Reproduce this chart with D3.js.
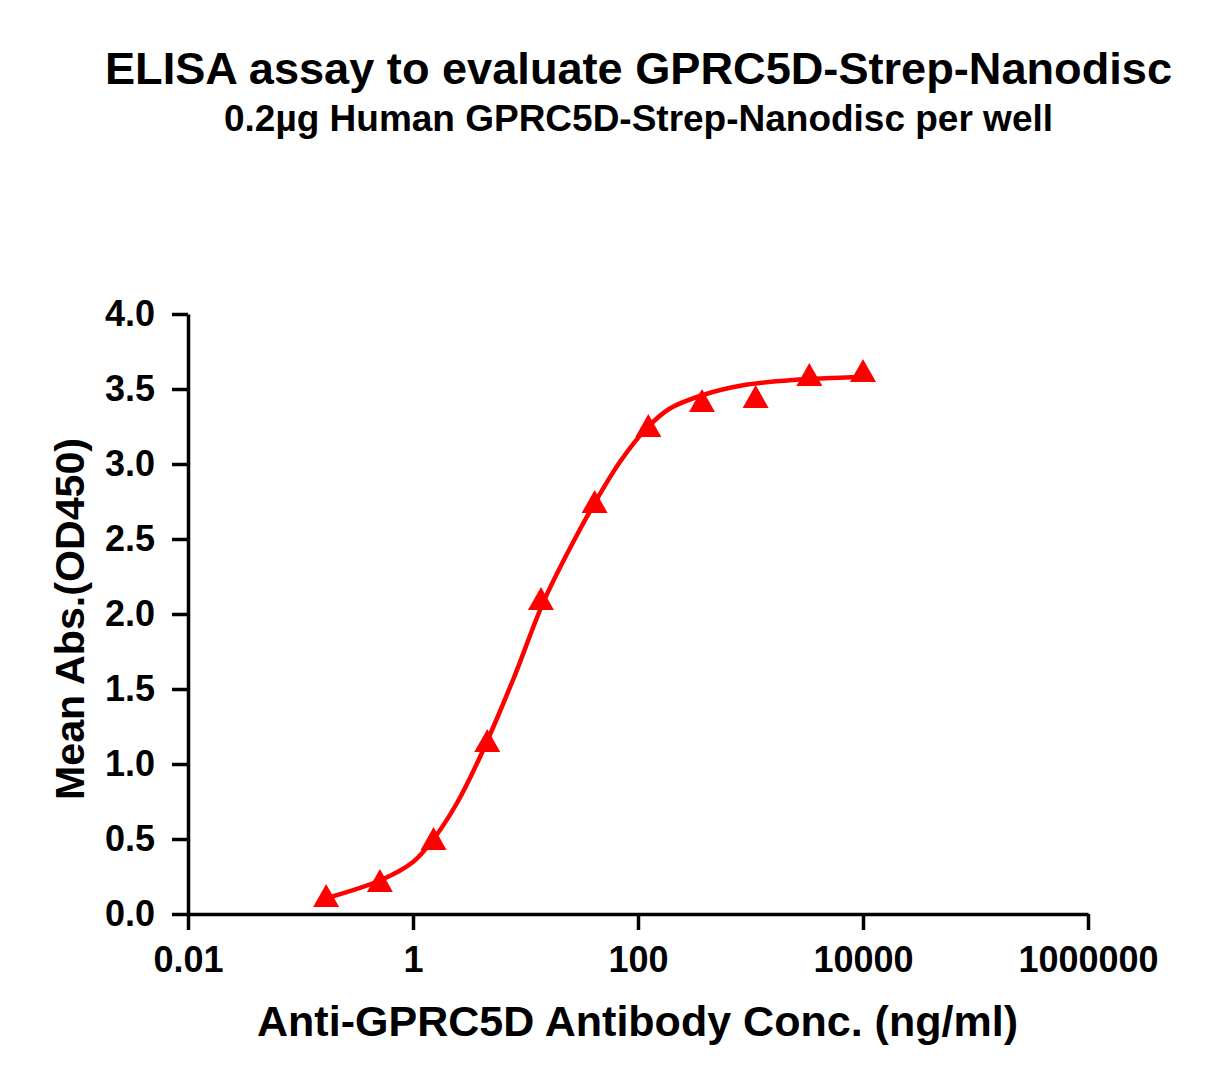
<!DOCTYPE html>
<html>
<head>
<meta charset="utf-8">
<script src="https://cdn.jsdelivr.net/npm/d3@7"></script>
<style>
    body { margin: 0; background: #fff; }
    text { font-family: "Liberation Sans", Arial, sans-serif; font-weight: bold; }
</style>
</head>
<body>
<svg id="chart" width="1216" height="1091"></svg>
<script>
// measured points, 3-fold dilution series (ng/ml)
let conc = [0.169, 0.508, 1.524, 4.572, 13.72, 41.15, 123.5, 370.4, 1111.1, 3333.3, 10000];
let od450 = [0.123, 0.223, 0.503, 1.157, 2.103, 2.75, 3.257, 3.423, 3.45, 3.597, 3.623];

// fitted curve
let fitConc = [0.169, 0.52, 1.0, 1.5, 2.46, 3.94, 7.74, 14.3, 24.9, 39.8, 69.2, 120, 192, 378, 858, 2388, 10000];
let fitOD = [0.105, 0.227, 0.347, 0.493, 0.74, 1.047, 1.56, 2.073, 2.44, 2.72, 3.015, 3.24, 3.37, 3.46, 3.525, 3.56, 3.58];

let xTicks = [0.01, 1, 100, 10000, 1000000];
let xTickLabels = ["0.01", "1", "100", "10000", "1000000"];
let yTicks = [0, 0.5, 1.0, 1.5, 2.0, 2.5, 3.0, 3.5, 4.0];

let svg = d3.select("#chart");
let red = "#ff0000";

let x = d3.scaleLog().domain([0.01, 1000000]).range([188, 1088]);
let y = d3.scaleLinear().domain([0, 4]).range([914, 314]);

// titles
svg.append("text")
    .attr("x", 105)
    .attr("y", 84)
    .attr("textLength", 1067)
    .attr("lengthAdjust", "spacingAndGlyphs")
    .style("font-size", "45px")
    .text("ELISA assay to evaluate GPRC5D-Strep-Nanodisc");

svg.append("text")
    .attr("x", 224)
    .attr("y", 131)
    .attr("textLength", 829)
    .attr("lengthAdjust", "spacingAndGlyphs")
    .style("font-size", "36px")
    .text("0.2µg Human GPRC5D-Strep-Nanodisc per well");

// axes
let xAxis = svg.append("g")
    .attr("transform", "translate(0," + y(0) + ")")
    .call(d3.axisBottom(x).tickValues(xTicks).tickSize(16).tickSizeOuter(0).tickPadding(16)
        .tickFormat((d, i) => xTickLabels[i]));

let yAxis = svg.append("g")
    .attr("transform", "translate(" + x(0.01) + ",0)")
    .call(d3.axisLeft(y).tickValues(yTicks).tickSize(16).tickSizeOuter(0).tickPadding(17)
        .tickFormat(d3.format(".1f")));

for (let ax of [xAxis, yAxis]) {
    ax.select(".domain").attr("stroke", "black").attr("stroke-width", 3.5);
    ax.selectAll(".tick line").attr("stroke", "black").attr("stroke-width", 3.5);
    ax.selectAll(".tick text")
        .attr("fill", "black")
        .style("font-size", "36px")
        .style("font-family", "'Liberation Sans', Arial, sans-serif")
        .style("font-weight", "bold");
}

svg.append("text")
    .attr("x", 257)
    .attr("y", 1036)
    .attr("textLength", 761)
    .attr("lengthAdjust", "spacingAndGlyphs")
    .style("font-size", "42px")
    .text("Anti-GPRC5D Antibody Conc. (ng/ml)");

svg.append("text")
    .attr("transform", "translate(84,800) rotate(-90)")
    .attr("textLength", 362)
    .attr("lengthAdjust", "spacingAndGlyphs")
    .style("font-size", "41px")
    .text("Mean Abs.(OD450)");

// fit line
let line = d3.line()
    .x(d => x(d[0]))
    .y(d => y(d[1]))
    .curve(d3.curveCatmullRom.alpha(0.5));

svg.append("path")
    .datum(fitConc.map((c, i) => [c, fitOD[i]]))
    .attr("fill", "none")
    .attr("stroke", red)
    .attr("stroke-width", 4.5)
    .attr("d", line);

// triangle markers, centred on their bounding box
let tri = "M0,-11.5L13,11.5L-13,11.5Z";
svg.append("g")
    .selectAll("path")
    .data(conc.map((c, i) => [c, od450[i]]))
    .join("path")
    .attr("transform", d => "translate(" + x(d[0]) + "," + y(d[1]) + ")")
    .attr("d", tri)
    .attr("fill", red);
</script>
</body>
</html>
